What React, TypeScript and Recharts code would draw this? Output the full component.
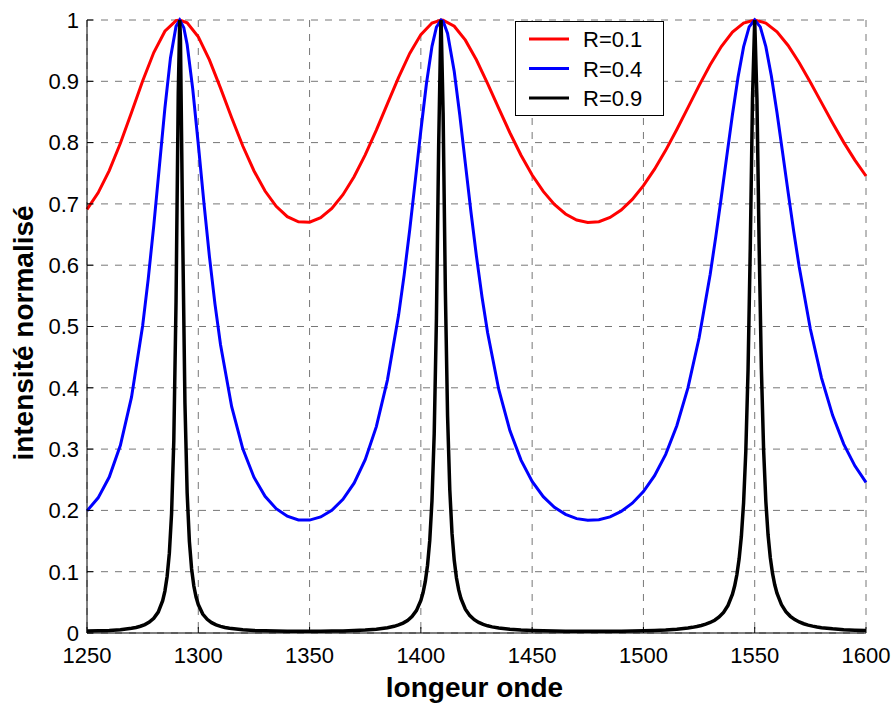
import React from 'react';
import { LineChart, Line, XAxis, YAxis, CartesianGrid, Legend } from 'recharts';

const xTicks = [1250, 1300, 1350, 1400, 1450, 1500, 1550, 1600];
const yTicks = [0, 0.1, 0.2, 0.3, 0.4, 0.5, 0.6, 0.7, 0.8, 0.9, 1];

const seriesNames = ['R=0.1', 'R=0.4', 'R=0.9'];
const seriesColors = ['#ff0000', '#0000ff', '#000000'];

// R = 0.1
const redX = [
  1250, 1255, 1260, 1265, 1270, 1275, 1280, 1285, 1290, 1291.67, 1295, 1300, 1305, 1310, 1315, 1320,
  1325, 1330, 1335, 1340, 1345, 1350, 1355, 1360, 1365, 1370, 1375, 1380, 1385, 1390, 1395, 1400,
  1405, 1409.09, 1410, 1415, 1420, 1425, 1430, 1435, 1440, 1445, 1450, 1455, 1460, 1465, 1470, 1475,
  1480, 1485, 1490, 1495, 1500, 1505, 1510, 1515, 1520, 1525, 1530, 1535, 1540, 1545, 1550, 1555,
  1560, 1565, 1570, 1575, 1580, 1585, 1590, 1595, 1600,
];
const redY = [
  0.6912, 0.718, 0.7544, 0.799, 0.8492, 0.9004, 0.9469, 0.9817, 0.9988, 1, 0.9954, 0.9725, 0.9348, 0.8888, 0.8405, 0.7944,
  0.7541, 0.721, 0.6961, 0.6792, 0.6707, 0.6702, 0.6775, 0.6925, 0.715, 0.7444, 0.78, 0.8204, 0.8636, 0.9065, 0.9454, 0.9762,
  0.995, 1, 0.9998, 0.9899, 0.9671, 0.9347, 0.8963, 0.8558, 0.8161, 0.7794, 0.7472, 0.7203, 0.699, 0.6835, 0.6737, 0.6696,
  0.671, 0.6779, 0.6901, 0.7074, 0.7297, 0.7566, 0.7873, 0.8213, 0.857, 0.893, 0.927, 0.9568, 0.9802, 0.9949, 1, 0.995,
  0.9806, 0.9584, 0.9303, 0.8985, 0.8652, 0.8321, 0.8004, 0.7714, 0.7455,
];

// R = 0.4
const blueX = [
  1250, 1255, 1260, 1265, 1270, 1275, 1277.5, 1280, 1282.5, 1285, 1287.5, 1290, 1291.67, 1293.5, 1295, 1297.5,
  1300, 1302.5, 1305, 1307.5, 1310, 1315, 1320, 1325, 1330, 1335, 1340, 1345, 1350, 1355, 1360, 1365,
  1370, 1375, 1380, 1385, 1390, 1392.5, 1395, 1397.5, 1400, 1402.5, 1405, 1407, 1409.09, 1410, 1412, 1415,
  1417.5, 1420, 1422.5, 1425, 1427.5, 1430, 1435, 1440, 1445, 1450, 1455, 1460, 1465, 1470, 1475, 1480,
  1485, 1490, 1495, 1500, 1505, 1510, 1515, 1520, 1525, 1530, 1532.5, 1535, 1537.5, 1540, 1542.5, 1545,
  1547.5, 1550, 1552.5, 1555, 1557.5, 1560, 1562.5, 1565, 1567.5, 1570, 1575, 1580, 1585, 1590, 1595, 1600,
];
const blueY = [
  0.1992, 0.2205, 0.2544, 0.3063, 0.3848, 0.5012, 0.5773, 0.6647, 0.7605, 0.8561, 0.9382, 0.9896, 1, 0.9875, 0.96, 0.8877,
  0.7973, 0.7028, 0.6144, 0.5365, 0.4704, 0.3692, 0.3004, 0.2542, 0.2231, 0.2028, 0.1905, 0.1845, 0.1842, 0.1893, 0.2002, 0.218,
  0.2444, 0.2826, 0.3367, 0.413, 0.5186, 0.5842, 0.6579, 0.7379, 0.8198, 0.8959, 0.9571, 0.9884, 1, 0.9978, 0.978, 0.9159,
  0.8445, 0.7657, 0.6872, 0.6139, 0.5477, 0.4899, 0.3973, 0.3302, 0.282, 0.2472, 0.2224, 0.2051, 0.1935, 0.1866, 0.1838, 0.1848,
  0.1895, 0.1983, 0.2117, 0.2308, 0.2567, 0.2914, 0.3382, 0.3998, 0.4813, 0.5853, 0.6462, 0.7113, 0.7791, 0.8459, 0.9067, 0.9561,
  0.9887, 1, 0.9888, 0.9566, 0.9083, 0.849, 0.7844, 0.7192, 0.6557, 0.5971, 0.4958, 0.4162, 0.3551, 0.3082, 0.2727, 0.2456,
];

// R = 0.9
const blackX = [
  1250, 1255, 1260, 1265, 1270, 1272, 1274, 1276, 1278, 1280, 1282, 1284, 1285, 1286, 1287, 1288,
  1289, 1290, 1291, 1291.67, 1292, 1293, 1294, 1295, 1296, 1297, 1298, 1299, 1300, 1302, 1304, 1306,
  1308, 1310, 1312, 1314, 1320, 1325, 1330, 1335, 1340, 1345, 1350, 1355, 1360, 1365, 1370, 1375,
  1380, 1385, 1388, 1390, 1392, 1394, 1396, 1398, 1400, 1401, 1402, 1403, 1404, 1405, 1406, 1407,
  1408, 1409, 1409.09, 1410, 1411, 1412, 1413, 1414, 1415, 1416, 1417, 1418, 1420, 1422, 1424, 1426,
  1428, 1430, 1432, 1435, 1440, 1445, 1450, 1455, 1460, 1465, 1470, 1475, 1480, 1485, 1490, 1495,
  1500, 1505, 1510, 1515, 1520, 1522, 1524, 1526, 1528, 1530, 1532, 1534, 1536, 1538, 1540, 1541,
  1542, 1543, 1544, 1545, 1546, 1547, 1548, 1549, 1550, 1551, 1552, 1553, 1554, 1555, 1556, 1557,
  1558, 1559, 1560, 1562, 1564, 1566, 1568, 1570, 1572, 1574, 1576, 1578, 1580, 1585, 1590, 1595,
  1600,
];
const blackY = [
  0.00306, 0.00348, 0.00419, 0.00542, 0.00766, 0.00908, 0.01102, 0.01374, 0.01773, 0.02389, 0.03411, 0.0528, 0.0684, 0.0922, 0.1302, 0.1949,
  0.3139, 0.5395, 0.88, 1, 0.9671, 0.6477, 0.3758, 0.2283, 0.1495, 0.1044, 0.0766, 0.0586, 0.0463, 0.031, 0.0223, 0.0169,
  0.0133, 0.01085, 0.00905, 0.00771, 0.00527, 0.00419, 0.00353, 0.00313, 0.0029, 0.00279, 0.00278, 0.00287, 0.00308, 0.00343, 0.00398, 0.00484,
  0.00623, 0.00861, 0.01093, 0.01313, 0.01612, 0.02038, 0.02667, 0.0365, 0.0532, 0.066, 0.0841, 0.1105, 0.151, 0.216, 0.3253, 0.5132,
  0.7949, 0.9982, 1, 0.8484, 0.5597, 0.3544, 0.2336, 0.1624, 0.1186, 0.0898, 0.0703, 0.0565, 0.0388, 0.0283, 0.0217, 0.0172,
  0.014, 0.01172, 0.00998, 0.00807, 0.00605, 0.00483, 0.00404, 0.00352, 0.00317, 0.00295, 0.00282, 0.00277, 0.00279, 0.00288, 0.00304, 0.00331,
  0.00369, 0.00424, 0.00505, 0.00627, 0.00816, 0.00922, 0.01054, 0.0122, 0.01433, 0.01713, 0.02089, 0.02612, 0.03364, 0.0451, 0.0634, 0.077,
  0.0954, 0.121, 0.1578, 0.2124, 0.2965, 0.4283, 0.6278, 0.871, 1, 0.8713, 0.629, 0.4303, 0.2986, 0.2145, 0.1598, 0.1229,
  0.0972, 0.0787, 0.0649, 0.0464, 0.0348, 0.0272, 0.0218, 0.018, 0.0151, 0.0129, 0.0112, 0.00983, 0.00873, 0.00675, 0.00547, 0.00461,
  0.004,
];

const toPoints = (xs: number[], ys: number[]) => xs.map((x, i) => ({ x, y: ys[i] }));
const redData = toPoints(redX, redY);
const blueData = toPoints(blueX, blueY);
const blackData = toPoints(blackX, blackY);

const FONT = '"Liberation Sans", Arial, Helvetica, sans-serif';

const renderLegend = () => (
  <svg width={149} height={95} style={{ display: 'block' }}>
    <rect x={0.5} y={0.5} width={148} height={94} fill="#ffffff" stroke="#000000" strokeWidth={1} />
    {seriesNames.map((name, i) => (
      <g key={name}>
        <line x1={14} x2={54} y1={18 + 29.5 * i} y2={18 + 29.5 * i} stroke={seriesColors[i]} strokeWidth={3} />
        <text x={68} y={18 + 29.5 * i + 8} fontSize={22} fontFamily={FONT} fill="#000">
          {name}
        </text>
      </g>
    ))}
  </svg>
);

const renderXTitle = (props: any) => {
  const vb = props.viewBox || { x: 87, y: 633, width: 779, height: 30 };
  return (
    <text
      x={vb.x + vb.width / 2 - 2}
      y={vb.y + 64}
      textAnchor="middle"
      fontSize={28}
      fontWeight="bold"
      fontFamily={FONT}
      fill="#000"
    >
      longeur onde
    </text>
  );
};

const renderYTitle = (props: any) => {
  const vb = props.viewBox || { x: 27, y: 20, width: 60, height: 613 };
  const cx = vb.x + 6;
  const cy = vb.y + vb.height / 2 + 6.5;
  return (
    <text
      x={cx}
      y={cy}
      transform={`rotate(-90, ${cx}, ${cy})`}
      textAnchor="middle"
      fontSize={28}
      fontWeight="bold"
      fontFamily={FONT}
      fill="#000"
    >
      intensité normalisé
    </text>
  );
};

export default function App() {
  return (
    <div style={{ position: 'absolute', left: 0, top: 0, background: '#fff' }}>
      <LineChart width={893} height={704} margin={{ top: 20, right: 27, bottom: 41, left: 27 }}>
        <CartesianGrid stroke="#777" strokeDasharray="7 7" strokeWidth={1} />
        <XAxis
          dataKey="x"
          type="number"
          domain={[1250, 1600]}
          ticks={xTicks}
          interval={0}
          height={30}
          tickSize={-6}
          tickMargin={20}
          axisLine={{ stroke: '#000', strokeWidth: 1 }}
          tickLine={{ stroke: '#000', strokeWidth: 1 }}
          tick={{ fill: '#000', fontSize: 22, fontFamily: FONT }}
          label={renderXTitle}
        />
        <YAxis
          type="number"
          domain={[0, 1]}
          ticks={yTicks}
          interval={0}
          width={60}
          tickSize={-6}
          tickMargin={14}
          axisLine={{ stroke: '#000', strokeWidth: 1 }}
          tickLine={{ stroke: '#000', strokeWidth: 1 }}
          tick={{ fill: '#000', fontSize: 22, fontFamily: FONT }}
          label={renderYTitle}
        />
        <Legend
          layout="horizontal"
          verticalAlign="middle"
          align="center"
          content={renderLegend}
          wrapperStyle={{ left: 515, top: 21, width: 149, height: 95 }}
        />
        <Line data={redData} dataKey="y" name={seriesNames[0]} type="linear" stroke={seriesColors[0]} strokeWidth={3} dot={false} isAnimationActive={false} />
        <Line data={blueData} dataKey="y" name={seriesNames[1]} type="linear" stroke={seriesColors[1]} strokeWidth={3} dot={false} isAnimationActive={false} />
        <Line data={blackData} dataKey="y" name={seriesNames[2]} type="linear" stroke={seriesColors[2]} strokeWidth={3.5} dot={false} isAnimationActive={false} />
      </LineChart>
    </div>
  );
}
